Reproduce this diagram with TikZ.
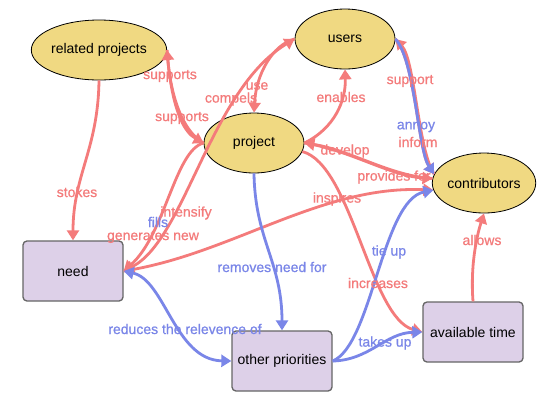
\documentclass[tikz,border=0pt]{standalone}
\usepackage{fontspec}
\setmainfont{Liberation Sans}
\newfontfamily\labfont[FakeBold=0.7]{Liberation Sans}
\usetikzlibrary{arrows.meta,shapes.geometric}
\definecolor{yelc}{HTML}{F0D982}
\definecolor{lavc}{HTML}{DDD0E8}
\definecolor{redc}{HTML}{F47B7B}
\definecolor{bluec}{HTML}{7A86E8}
\definecolor{rimc}{HTML}{666666}
\begin{document}
\begin{tikzpicture}[x=0.75pt,y=-0.75pt,
  >={Triangle[length=7.5pt,width=9pt]},
  ell/.style={ellipse,draw=black,line width=0.6pt,fill=yelc,minimum width=75pt,minimum height=45pt,inner sep=0pt,font=\fontsize{10.5}{12}\selectfont},
  box/.style={rectangle,rounded corners=3pt,draw=rimc,line width=1pt,fill=lavc,minimum width=75pt,minimum height=45pt,inner sep=0pt,font=\fontsize{10.5}{12}\selectfont},
  re/.style={draw=redc,line width=2.1pt},
  be/.style={draw=bluec,line width=2.1pt},
  rl/.style={text=redc,font=\labfont\fontsize{10.5}{12}\selectfont,inner sep=0pt},
  bl/.style={text=bluec,font=\labfont\fontsize{10.5}{12}\selectfont,inner sep=0pt}]
\useasboundingbox[fill=white] (0,0) rectangle (552,412);
% nodes
\node[ell] (rp) at (99,50) {related projects};
\node[ell] (users) at (345,39) {users};
\node[ell] (project) at (254,143) {project};
\node[ell] (contributors) at (484,183) {contributors};
\node[box] (need) at (73,271) {need};
\node[box] (other) at (282,361) {other priorities};
\node[box] (avail) at (473,332) {available time};
% edges
\draw[re,->] (project.west) .. controls (172,125) and (168,62) .. (rp.east);
\draw[re,->] (rp.east) .. controls (168,62) and (172,125) .. (project.west);
\draw[re,->] (rp.south) .. controls (98,150) and (73,175) .. (need.north);
\draw[re,->] (users.west) .. controls (272,45) and (256,75) .. (project.north);
\draw[re,<->] (need.east) .. controls (185,240) and (210,90) .. (users.west);
\draw[re,->] (project.west) .. controls (175,150) and (165,235) .. (need.east);
\draw[re,->] (project.east) .. controls (335,128) and (346,100) .. (users.south);
\draw[re,->] (need.east) .. controls (230,255) and (320,185) .. (contributors.188);
\draw[re,->] (contributors.170) .. controls (418,150) and (415,60) .. (users.east);
\draw[re,->] (users.east) .. controls (415,60) and (418,150) .. (contributors.170);
\draw[be,->] (users.east) .. controls (415,60) and (418,150) .. (contributors.170);
\draw[re,->] (contributors.175) .. controls (390,176) and (350,150) .. (project.east);
\draw[re,->] (project.east) .. controls (350,150) and (390,176) .. (contributors.175);
\draw[re,->] (project.-10) .. controls (352,165) and (370,318) .. (avail.west);
\draw[re,->] (avail.north) .. controls (470,262) and (478,232) .. (contributors.south);
\draw[be,->] (project.south) .. controls (255,240) and (282,262) .. (other.north);
\draw[be,<->] (need.east) .. controls (165,280) and (175,360) .. (other.west);
\draw[be,->] (other.east) .. controls (372,345) and (382,200) .. (contributors.188);
\draw[be,->] (other.east) .. controls (370,360) and (385,333) .. (avail.west);
% labels
\node[rl] (l1) at (170,76) {supports};
\node[rl] (l2) at (182,118) {supports};
\node[rl] (l3) at (77,192) {stokes};
\node[rl] (l4) at (257,86) {use};
\node[rl] (l5) at (231,99) {compels};
\node[rl] (l6) at (341,97) {enables};
\node[rl] (l7) at (410,81) {support};
\node[bl] (l8) at (416,127) {annoy};
\node[rl] (l9) at (418,142) {inform};
\node[rl] (l10) at (345,151) {develop};
\node[rl] (l11) at (394,177) {provides for};
\node[rl] (l12) at (337,199) {inspires};
\node[rl] (l13) at (186,213) {intensify};
\node[bl] (l14) at (158,222) {fills};
\node[rl] (l15) at (153,237) {generates new};
\node[bl] (l16) at (272,267) {removes need for};
\node[bl] (l17) at (389,252) {tie up};
\node[rl] (l18) at (378,283) {increases};
\node[bl] (l19) at (385,343) {takes up};
\node[rl] (l20) at (482,240) {allows};
\node[bl] (l21) at (185,329) {reduces the relevence of};
\end{tikzpicture}
\end{document}
